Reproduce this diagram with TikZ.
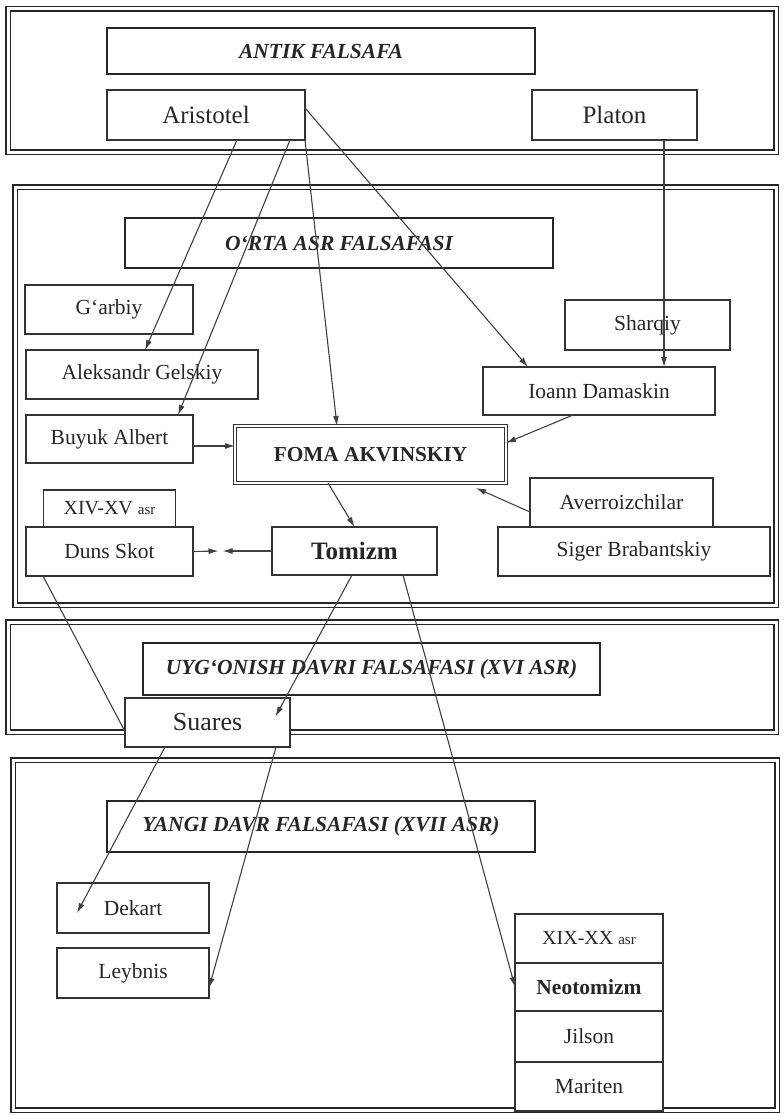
\documentclass[tikz,border=0pt]{standalone}
\usepackage{fontspec}
\setmainfont{Liberation Serif}
\usetikzlibrary{positioning}
\usetikzlibrary{arrows.meta}
\newcommand{\hdfont}{\fontsize{21.5}{25}\selectfont\bfseries\itshape}
\newcommand{\nmfont}{\fontsize{21.5}{25}\selectfont}
\newcommand{\bgfont}{\fontsize{25}{29}\selectfont}
\newcommand{\ASR}[1]{{\fontsize{15}{17}\selectfont #1}}

\begin{document}
\begin{tikzpicture}[x=1pt, y=-1pt, >={Latex[length=10pt,width=6pt]},
    panel/.style={draw=black!85, double, line width=1.7pt, double distance=3pt},
    headbox/.style={draw=black!85, line width=2.8pt, fill=white, inner sep=0pt, outer sep=0pt, font=\hdfont, text=black!85},
    namebox/.style={draw=black!80, line width=1.6pt, fill=white, inner sep=0pt, outer sep=0pt, font=\nmfont, text=black!85},
    link/.style={draw=black!75, line width=1.1pt}]
    \useasboundingbox (0,0) rectangle (784,1116);

    % the four periods
    \draw[panel] (8,9) rectangle (776,152);
    \draw[panel] (15,187) rectangle (776,605);
    \draw[panel] (8,622) rectangle (776,732);
    \draw[panel] (13,760) rectangle (777,1110);

    % antik falsafa
    \node[headbox, minimum width=428, minimum height=46] (antik) at (321,51) {ANTIK FALSAFA};
    \node[namebox, font=\bgfont, minimum width=198, minimum height=50] (arist) at (206,115) {Aristotel};
    \node[namebox, font=\bgfont, minimum width=165, minimum height=50] (platon) at (614.5,115) {Platon};

    % o'rta asr
    \node[headbox, minimum width=428, minimum height=50] (orta) at (339,243) {O‘RTA ASR FALSAFASI};
    \node[namebox, minimum width=168, minimum height=49] (garbiy) at (109,309.5) {G‘arbiy};
    \node[namebox, minimum width=232, minimum height=49] (aleks) at (142,374.5) {Aleksandr Gelskiy};
    \node[namebox, minimum width=167, minimum height=48] (albert) at (109.5,439) {Buyuk Albert};
    \node[namebox, minimum width=165, minimum height=50] (sharqiy) at (647.5,325) {Sharqiy};
    \node[namebox, minimum width=232, minimum height=48] (ioann) at (599,391) {Ioann Damaskin};
    \node[namebox, double, line width=1.4pt, double distance=1.8pt, font=\fontsize{21.3}{25}\selectfont\bfseries,
          minimum width=271, minimum height=57] (foma) at (370.5,454.5) {FOMA AKVINSKIY};
    \node[namebox, minimum width=167, minimum height=49] (duns) at (109.5,551.5) {Duns Skot};
    \node[namebox, font=\fontsize{20}{24}\selectfont, minimum width=132, minimum height=37, above=0pt of duns] (xivxv) {XIV-XV \ASR{asr}};
    \node[namebox, font=\fontsize{25}{29}\selectfont\bfseries, minimum width=165, minimum height=48] (tomizm) at (354.5,551) {Tomizm};
    \node[namebox, minimum width=272, minimum height=49] (siger) at (634,551.5) {Siger Brabantskiy};
    \node[namebox, minimum width=183, minimum height=49] (averr) at (621.5,502.5) {Averroizchilar};
    \coordinate (skotmid) at (220.5,551);

    % uyg'onish davri
    \node[headbox, minimum width=457, minimum height=52] (uygonish) at (371.5,669) {UYG‘ONISH DAVRI FALSAFASI (XVI ASR)};
    \node[namebox, font=\fontsize{26}{30}\selectfont, minimum width=165, minimum height=49] (suares) at (207.5,722.5) {Suares};

    % yangi davr
    \node[headbox, minimum width=428, minimum height=51] (yangi) at (321,826.5) {YANGI DAVR FALSAFASI (XVII ASR)};
    \node[namebox, minimum width=152, minimum height=50] (dekart) at (133,908) {Dekart};
    \node[namebox, minimum width=152, minimum height=50] (leybnis) at (133,973) {Leybnis};
    \node[namebox, font=\fontsize{20}{24}\selectfont, minimum width=148, minimum height=49] (xixx) at (589,938.5) {XIX-XX \ASR{asr}};
    \node[namebox, font=\fontsize{21.5}{25}\selectfont\bfseries, minimum width=148, minimum height=48, below=0pt of xixx] (neo) {Neotomizm};
    \node[namebox, minimum width=148, minimum height=51, below=0pt of neo] (jilson) {Jilson};
    \node[namebox, minimum width=148, minimum height=49, below=0pt of jilson] (mariten) {Mariten};

    % connections
    \draw[link,->] ([xshift=31]arist.south) -- ([xshift=3]aleks.north);
    \draw[link,->] ([xshift=84]arist.south) -- ([xshift=68.5]albert.north);
    \draw[link,->] (arist.south east) -- ([xshift=-33.5]foma.north);
    \draw[link,->] ([yshift=7]arist.east) -- ([xshift=-71]ioann.north);
    \draw[link,->] ([xshift=49.5]platon.south) -- ([xshift=65]ioann.north);
    \draw[link,->] ([xshift=-26]ioann.south) -- ([yshift=11.5]foma.east);
    \draw[link,->] ([yshift=-7]albert.east) -- ([yshift=8.5]foma.west);
    \draw[link,->] ([yshift=-9.5]averr.west) -- ([xshift=-30,yshift=-5]foma.south east);
    \draw[link,->] ([xshift=-42.5]foma.south) -- (tomizm.north);
    \draw[link,->] (duns.east) -- ([xshift=-2]skotmid);
    \draw[link,->] (tomizm.west) -- ([xshift=2]skotmid);
    \draw[link] ([xshift=-66.5]duns.south) -- ([yshift=-9]suares.west);
    \draw[link,->] ([xshift=-2.5]tomizm.south) -- ([xshift=68,yshift=6]suares.center);
    \draw[link,->] ([xshift=48.5]tomizm.south) -- (neo.west);
    \draw[link,->] ([xshift=-42.5]suares.south) -- ([xshift=-56,yshift=-5]dekart.center);
    \draw[link,->] ([xshift=68.5]suares.south) -- ([yshift=-15]leybnis.east);
\end{tikzpicture}
\end{document}
